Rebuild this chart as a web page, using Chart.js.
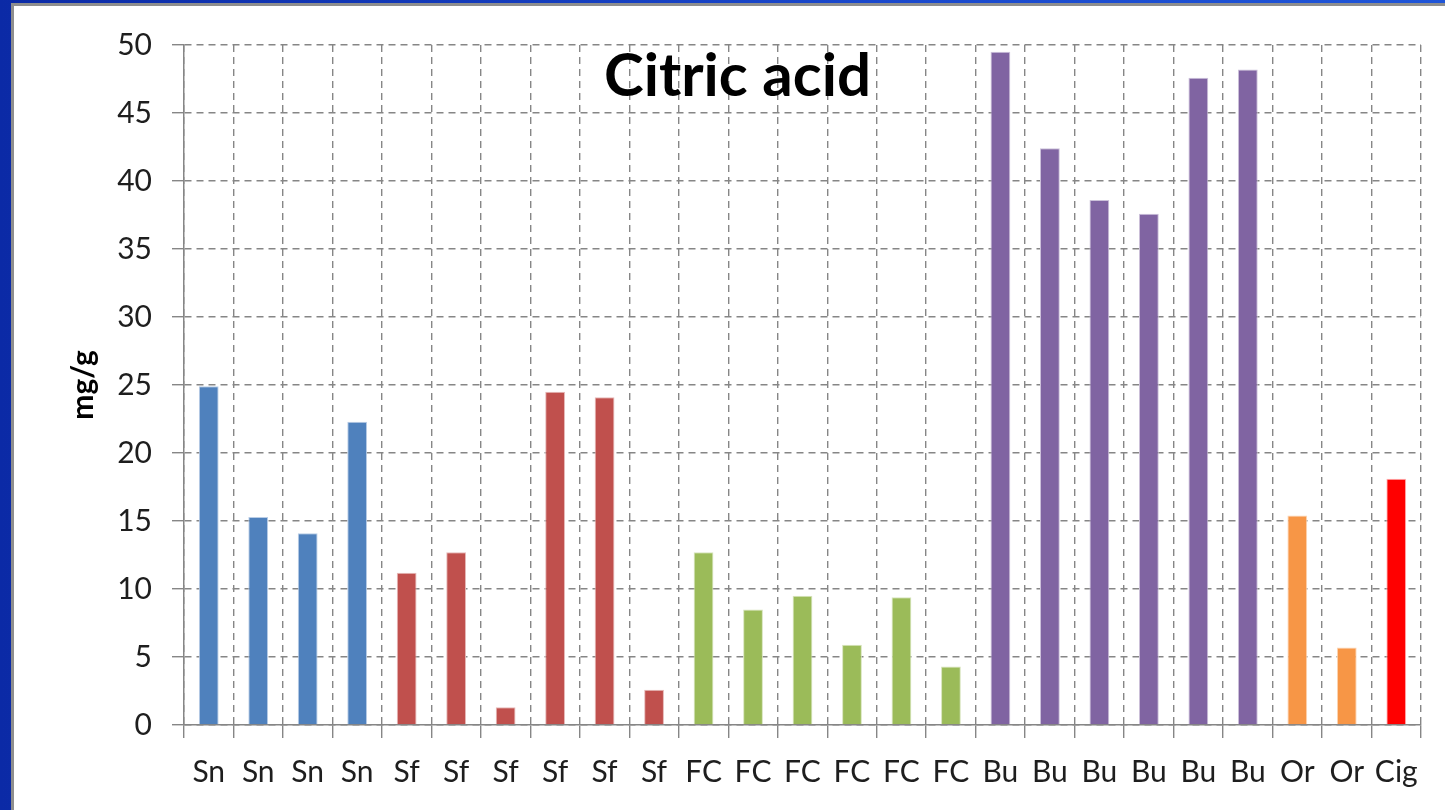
<!DOCTYPE html>
<html>
<head>
<meta charset="utf-8">
<title>Citric acid</title>
<script src="https://cdn.jsdelivr.net/npm/chart.js@4/dist/chart.umd.min.js"></script>
<style>
  html, body { margin: 0; padding: 0; }
  body {
    width: 1445px; height: 810px; overflow: hidden;
    background: linear-gradient(to right, #0b2aa6, #1a48cc 60%, #1f55d8);
  }
  #frame {
    position: absolute; left: 11px; top: 3px;
    border-left: 3px solid #8e8e8e; border-top: 3px solid #8e8e8e;
    background: #fff; width: 1431px; height: 804px;
  }
  canvas { display: block; }
</style>
</head>
<body>
<div id="frame"><canvas id="c" width="1431" height="804"></canvas></div>
<script>
// Sample groups and citric acid content (mg/g)
const labels = ['Sn','Sn','Sn','Sn','Sf','Sf','Sf','Sf','Sf','Sf','FC','FC','FC','FC','FC','FC','Bu','Bu','Bu','Bu','Bu','Bu','Or','Or','Cig'];
const snValues  = [24.9, 15.3, 14.1, 22.3];
const sfValues  = [11.2, 12.7, 1.3, 24.5, 24.1, 2.6];
const fcValues  = [12.7, 8.5, 9.5, 5.9, 9.4, 4.3];
const buValues  = [49.5, 42.4, 38.6, 37.6, 47.6, 48.2];
const orValues  = [15.4, 5.7];
const cigValues = [18.1];
const yTicks = [0, 5, 10, 15, 20, 25, 30, 35, 40, 45, 50];

const values = [...snValues, ...sfValues, ...fcValues, ...buValues, ...orValues, ...cigValues];

// Fill colour per sample group
const groupFill = { Sn: '#4f81bd', Sf: '#c0504d', FC: '#9bbb59', Bu: '#8064a2', Or: '#f79646', Cig: '#ff0000' };
const groupEdge = { Sn: '#b9cde6', Sf: '#e6b9b8', FC: '#d7e4bd', Bu: '#ccc1da', Or: '#fcd5b5', Cig: '#ffb3b3' };

const gridGray = '#868686';
const tickFont = { family: 'Lato', size: 30 };

// Chart heading drawn inside the plot area
const headingPlugin = {
  id: 'heading',
  afterDraw(chart) {
    const { ctx, chartArea } = chart;
    ctx.save();
    ctx.font = 'bold 60px Lato';
    ctx.fillStyle = '#000';
    ctx.textAlign = 'center';
    ctx.textBaseline = 'alphabetic';
    ctx.fillText('Citric acid', chartArea.left + 553.5, chartArea.top + 51);
    ctx.restore();
  }
};

new Chart(document.getElementById('c'), {
  type: 'bar',
  data: {
    labels: labels,
    datasets: [{
      data: values,
      backgroundColor: labels.map(l => groupFill[l]),
      borderColor: labels.map(l => groupEdge[l]),
      borderWidth: 1,
      barPercentage: 0.4,
      categoryPercentage: 1.0
    }]
  },
  options: {
    responsive: false,
    animation: false,
    events: [],
    layout: { padding: { top: 39, right: 24, left: 0, bottom: 0 } },
    plugins: { legend: { display: false }, tooltip: { enabled: false }, title: { display: false } },
    scales: {
      x: {
        offset: true,
        grid: {
          offset: true,
          color: gridGray,
          lineWidth: 1.4,
          drawTicks: true,
          tickLength: 13,
          tickBorderDash: [],
          tickColor: gridGray
        },
        border: { display: true, color: gridGray, width: 1.5, dash: [7, 5] },
        ticks: { color: '#1e1e1e', font: tickFont, padding: 16, maxRotation: 0, autoSkip: false },
        afterFit(scale) { scale.height = 85; }
      },
      y: {
        min: 0, max: 50,
        afterBuildTicks(scale) { scale.ticks = yTicks.map(v => ({ value: v })); },
        grid: {
          color: gridGray,
          lineWidth: 1.4,
          tickLength: 12,
          tickBorderDash: [],
          tickColor: gridGray
        },
        border: { display: true, color: gridGray, width: 1.5, dash: [7, 5] },
        ticks: { color: '#1e1e1e', font: tickFont, padding: 20 },
        title: {
          display: true,
          text: 'mg/g',
          color: '#000',
          font: { family: 'Lato', size: 30, weight: 'bold' },
          padding: { top: 51, bottom: 0 }
        },
        afterFit(scale) { scale.width = 170; }
      }
    }
  },
  plugins: [headingPlugin]
});
</script>
</body>
</html>
